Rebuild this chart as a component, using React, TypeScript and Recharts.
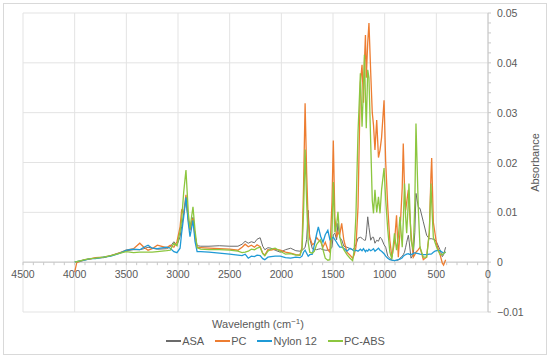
import React from 'react';
import {
    LineChart,
    Line,
    XAxis,
    YAxis,
    CartesianGrid,
    Legend,
    ReferenceLine
} from 'recharts';

// wavenumber (cm-1) shared by every series
const wavenumbers = [
    4000, 3980, 3900, 3850, 3800, 3720, 3650, 3560, 3500, 3430,
    3370, 3330, 3290, 3250, 3200, 3110, 3075, 3040, 3010, 2980,
    2965, 2945, 2923, 2900, 2884, 2855, 2835, 2815, 2780, 2700,
    2600, 2500, 2420, 2380, 2350, 2320, 2290, 2260, 2235, 2205,
    2180, 2160, 2130, 2100, 2060, 2010, 1960, 1910, 1860, 1820,
    1800, 1785, 1770, 1755, 1740, 1725, 1700, 1680, 1660, 1642,
    1620, 1597, 1575, 1550, 1530, 1510, 1497, 1482, 1465, 1452,
    1435, 1416, 1395, 1365, 1335, 1310, 1295, 1278, 1258, 1235,
    1219, 1205, 1196, 1186, 1178, 1164, 1152, 1135, 1120, 1108,
    1094, 1077, 1060, 1045, 1030, 1006, 990, 970, 950, 930,
    905, 885, 868, 852, 830, 820, 808, 797, 787, 771,
    765, 745, 723, 708, 697, 674, 658, 626, 594, 568,
    552, 545, 529, 513, 497, 465, 442, 430, 410
];

const asa = [
    0, 0.0001, 0.0005, 0.0007, 0.0008, 0.0009, 0.0013, 0.0019, 0.0023, 0.0025,
    0.0025, 0.0027, 0.003, 0.0028, 0.0026, 0.0027, 0.0031, 0.0041, 0.0034, 0.0051,
    0.0071, 0.0098, 0.0125, 0.0085, 0.0071, 0.009, 0.0055, 0.0033, 0.0032, 0.0032,
    0.0033, 0.0032, 0.0032, 0.0036, 0.0042, 0.0038, 0.0041, 0.0039, 0.0046, 0.0049,
    0.0032, 0.0025, 0.0029, 0.0028, 0.0024, 0.002, 0.0025, 0.0028, 0.0023, 0.0022,
    0.0024, 0.0026, 0.003, 0.0045, 0.0104, 0.0047, 0.0027, 0.0026, 0.0025, 0.0026,
    0.0027, 0.0025, 0.0024, 0.0024, 0.0025, 0.003, 0.0055, 0.0058, 0.0045, 0.0078,
    0.005, 0.0045, 0.0032, 0.003, 0.0027, 0.0025, 0.0028, 0.0035, 0.0048, 0.005,
    0.0048, 0.0045, 0.0044, 0.0044, 0.0055, 0.0091, 0.007, 0.0044, 0.005, 0.005,
    0.0038, 0.0044, 0.0042, 0.005, 0.0047, 0.0035, 0.003, 0.0012, 0.0008, 0.0004,
    0.0003, 0.0004, 0.0004, 0.0008, 0.0012, 0.0015, 0.002, 0.003, 0.004, 0.0054,
    0.0045, 0.0008, 0.0015, 0.006, 0.0138, 0.011, 0.0108, 0.0081, 0.0054, 0.0047,
    0.0047, 0.0047, 0.0046, 0.0045, 0.004, 0.0025, 0.0011, 0.0015, 0.003
];

const pc = [
    -0.002, -0.0001, 0.0005, 0.0006, 0.0009, 0.001, 0.0013, 0.0019, 0.0024, 0.0027,
    0.0038, 0.003, 0.0024, 0.0027, 0.0034, 0.0029, 0.0034, 0.003, 0.0041, 0.0071,
    0.0104, 0.0098, 0.0135, 0.0084, 0.0064, 0.0088, 0.0051, 0.0029, 0.0029, 0.0028,
    0.0027, 0.0026, 0.0024, 0.003, 0.0036, 0.0031, 0.0034, 0.003, 0.0035, 0.0031,
    0.0018, 0.0014, 0.0025, 0.0024, 0.0026, 0.0024, 0.002, 0.0018, 0.0015, 0.0014,
    0.003, 0.015, 0.0319, 0.018, 0.008, 0.005, 0.0035, 0.0038, 0.005, 0.0045,
    0.0042, 0.003, 0.004, 0.0025, 0.002, 0.012, 0.0244, 0.009, 0.005, 0.006,
    0.0055, 0.0078, 0.0044, 0.002, 0.0014, 0.0008, 0.0015, 0.003, 0.011, 0.036,
    0.0396, 0.032, 0.04, 0.0456, 0.037, 0.044, 0.048, 0.038, 0.03, 0.0275,
    0.0225, 0.0285, 0.021, 0.0225, 0.025, 0.0325, 0.02, 0.011, 0.0044, 0.001,
    0.004, 0.0094, 0.001, 0.006, 0.015, 0.0238, 0.015, 0.0104, 0.012, 0.0145,
    0.012, 0.0058, 0.001, 0.0015, 0.002, 0.0025, 0.003, 0.0005, 0.001, 0.006,
    0.0175, 0.0209, 0.008, 0.0058, 0.0036, 0.0016, -0.0002, -0.0006, 0.0005
];

const nylon12 = [
    0, 0.0001, 0.0004, 0.0007, 0.0007, 0.001, 0.0012, 0.0018, 0.0024, 0.0026,
    0.0025, 0.003, 0.0034, 0.0028, 0.0027, 0.003, 0.0028, 0.0021, 0.0019, 0.0028,
    0.0058, 0.0091, 0.013, 0.0078, 0.0051, 0.0084, 0.0041, 0.0021, 0.0021, 0.002,
    0.0018, 0.0016, 0.0014, 0.0013, 0.0016, 0.0008, 0.0012, 0.0011, 0.0014, 0.0013,
    0.0007, 0.0005, 0.001, 0.0011, 0.0012, 0.0012, 0.0009, 0.0008, 0.001, 0.0009,
    0.0012, 0.002, 0.0024, 0.0018, 0.0012, 0.0015, 0.0016, 0.0035, 0.0055, 0.0071,
    0.0052, 0.004, 0.0055, 0.0064, 0.0045, 0.0048, 0.005, 0.0045, 0.004, 0.0035,
    0.003, 0.003, 0.0028, 0.0022, 0.0028, 0.0025, 0.0022, 0.0024, 0.0022, 0.0026,
    0.0023, 0.0027, 0.0024, 0.0021, 0.0024, 0.0022, 0.0026, 0.0023, 0.0025, 0.0027,
    0.0022, 0.0025, 0.0028, 0.0024, 0.0022, 0.0017, 0.0012, 0.0008, 0.0005, 0.0004,
    0.0003, 0.0004, 0.0005, 0.0006, 0.0009, 0.0012, 0.0014, 0.0015, 0.0016, 0.0017,
    0.0016, 0.0015, 0.0017, 0.0019, 0.0018, 0.0017, 0.0016, 0.0015, 0.0015, 0.0016,
    0.0016, 0.0017, 0.002, 0.0022, 0.0023, 0.0023, 0.002, 0.0018, 0.002
];

const pcAbs = [
    0, 0.0001, 0.0005, 0.0007, 0.0008, 0.001, 0.0013, 0.0018, 0.0021, 0.0019,
    0.002, 0.002, 0.002, 0.002, 0.0021, 0.0023, 0.0024, 0.0038, 0.0033, 0.0062,
    0.0084, 0.014, 0.0185, 0.0098, 0.0068, 0.0111, 0.0064, 0.0029, 0.0026, 0.0025,
    0.0025, 0.0024, 0.0022, 0.0019, 0.002, 0.0022, 0.0026, 0.0025, 0.0028, 0.003,
    0.0017, 0.0013, 0.0022, 0.0026, 0.0028, 0.0022, 0.0016, 0.0017, 0.0014, 0.0014,
    0.0025, 0.01, 0.0226, 0.012, 0.004, 0.002, 0.0018, 0.0022, 0.0035, 0.004,
    0.0045, 0.0025, 0.0008, 0.0004, 0.0005, 0.006, 0.0161, 0.006, 0.0075, 0.0101,
    0.005, 0.0035, 0.0025, 0.0015, 0.0008, 0.0003, 0.0024, 0.0094, 0.026, 0.0379,
    0.0272, 0.035, 0.0416, 0.033, 0.0269, 0.0386, 0.037, 0.0239, 0.0124, 0.0098,
    0.0145, 0.01, 0.0131, 0.0098, 0.0145, 0.0189, 0.0125, 0.0065, 0.002, 0.0006,
    0.0058, 0.0024, 0.005, 0.0091, 0.003, 0.008, 0.0158, 0.009, 0.0058, 0.012,
    0.0158, 0.0044, 0.0024, 0.012, 0.0278, 0.0104, 0.003, 0.001, 0.001, 0.0058,
    0.0158, 0.012, 0.005, 0.004, 0.003, 0.0016, 0.0015, 0.0018, 0.002
];

const seriesNames = ['ASA', 'PC', 'Nylon 12', 'PC-ABS'];
const xTicks = Array.from({ length: 46 }, (_, i) => i * 100);
const xGridValues = [0, 500, 1000, 1500, 2000, 2500, 3000, 3500, 4000, 4500];
const yTicks = [
    -0.01, -0.008, -0.006, -0.004, -0.002, 0, 0.002, 0.004, 0.006, 0.008,
    0.01, 0.012, 0.014, 0.016, 0.018, 0.02, 0.022, 0.024, 0.026, 0.028,
    0.03, 0.032, 0.034, 0.036, 0.038, 0.04, 0.042, 0.044, 0.046, 0.048, 0.05
];
const yGridValues = [-0.01, 0, 0.01, 0.02, 0.03, 0.04, 0.05];

const data = wavenumbers.map((w, i) => ({
    wn: w,
    asa: asa[i],
    pc: pc[i],
    nylon12: nylon12[i],
    pcAbs: pcAbs[i]
}));

const FONT = '"Liberation Sans", Arial, sans-serif';
const TEXT = '#595959';
const PLOT_TOP = 13;
const PLOT_H = 299;
const Y0 = PLOT_TOP + (PLOT_H * 5) / 6; // pixel row of absorbance 0

const colors = ['#6b6b6b', '#ed7d31', '#1f9ad6', '#8cc63f'];

const XTick = (props: any) => {
    const { x, payload } = props;
    const v = payload.value;
    return (
        <g>
            <line x1={x} x2={x} y1={Y0} y2={Y0 + 3} stroke="#c8c8c8" />
            {v % 500 === 0 && (
                <text x={x} y={Y0 + 16} textAnchor="middle" fontSize={10.5} fill={TEXT} fontFamily={FONT}>
                    {v}
                </text>
            )}
        </g>
    );
};

const YTick = (props: any) => {
    const { x, y, payload } = props;
    const v = payload.value;
    const r = Math.round(v * 100);
    if (Math.abs(v * 100 - r) > 1e-6) return <g />;
    const label = r === 0 ? '0' : r < 0 ? '\u2212' + (Math.abs(r) / 100).toFixed(2) : (r / 100).toFixed(2);
    return (
        <text x={x} y={y + 4} textAnchor="start" fontSize={10.5} fill={TEXT} fontFamily={FONT}>
            {label}
        </text>
    );
};

const renderLegend = () => (
    <div style={{ display: 'flex', justifyContent: 'center', fontFamily: FONT, fontSize: 11, color: TEXT }}>
        {seriesNames.map((n, i) => (
            <div key={n} style={{ display: 'flex', alignItems: 'center', marginLeft: i === 0 ? 0 : 11 }}>
                <span style={{ display: 'inline-block', width: 15, height: 0, borderTop: `2px solid ${colors[i]}`, marginRight: 1 }} />
                <span>{n}</span>
            </div>
        ))}
    </div>
);

export default function App() {
    return (
        <div style={{ position: 'absolute', left: 0, top: 0, width: 550, height: 359, background: '#fff' }}>
            <div style={{ position: 'absolute', left: 3, top: 3, width: 544, height: 352, border: '1px solid #d9d9d9', boxSizing: 'border-box' }} />
            <div style={{ position: 'absolute', left: 0, top: 0 }}>
                <LineChart width={550} height={359} data={data} margin={{ top: PLOT_TOP, right: 22, left: 23, bottom: 0 }}>
                    <CartesianGrid
                        stroke="#e3e3e3"
                        verticalValues={xGridValues}
                        horizontalValues={yGridValues}
                    />
                    <XAxis
                        dataKey="wn"
                        type="number"
                        domain={[0, 4500]}
                        reversed
                        ticks={xTicks}
                        interval={0}
                        height={47}
                        axisLine={false}
                        tickLine={false}
                        tick={XTick}
                        label={{
                            content: () => (
                                <text x={258} y={328} textAnchor="middle" fontSize={11} fill={TEXT} fontFamily={FONT}>
                                    Wavelength  (cm
                                    <tspan dy={-4} fontSize={8}>{'\u22121'}</tspan>
                                    <tspan dy={4}>)</tspan>
                                </text>
                            )
                        }}
                    />
                    <YAxis
                        orientation="right"
                        type="number"
                        domain={[-0.01, 0.05]}
                        ticks={yTicks}
                        interval={0}
                        width={40}
                        tickSize={3}
                        tickMargin={6}
                        axisLine={{ stroke: '#c8c8c8' }}
                        tickLine={{ stroke: '#c8c8c8' }}
                        tick={YTick}
                        label={{
                            content: () => (
                                <text
                                    x={539}
                                    y={PLOT_TOP + PLOT_H / 2}
                                    transform={`rotate(-90 539 ${PLOT_TOP + PLOT_H / 2})`}
                                    textAnchor="middle"
                                    fontSize={11}
                                    fill={TEXT}
                                    fontFamily={FONT}
                                >
                                    Absorbance
                                </text>
                            )
                        }}
                    />
                    <ReferenceLine y={0} stroke="#c8c8c8" />
                    <Legend
                        layout="horizontal"
                        verticalAlign="middle"
                        align="center"
                        content={renderLegend}
                        wrapperStyle={{ top: 335, left: 0, width: 551 }}
                    />
                    <Line type="linear" dataKey="asa" name="ASA" stroke={colors[0]} strokeWidth={1} dot={false} isAnimationActive={false} />
                    <Line type="linear" dataKey="pc" name="PC" stroke={colors[1]} strokeWidth={1.3} dot={false} isAnimationActive={false} />
                    <Line type="linear" dataKey="nylon12" name="Nylon 12" stroke={colors[2]} strokeWidth={1.3} dot={false} isAnimationActive={false} />
                    <Line type="linear" dataKey="pcAbs" name="PC-ABS" stroke={colors[3]} strokeWidth={1.3} dot={false} isAnimationActive={false} />
                </LineChart>
            </div>
        </div>
    );
}
